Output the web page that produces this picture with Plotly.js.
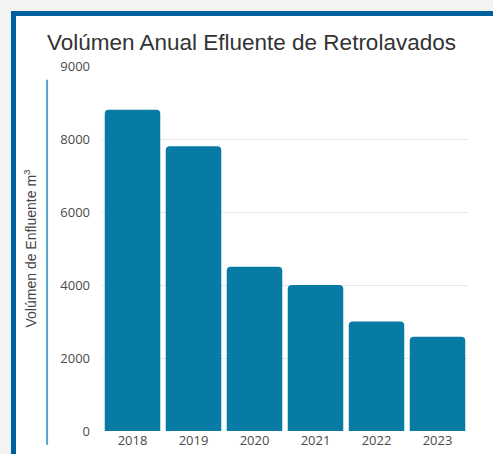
<!DOCTYPE html>
<html><head><meta charset="utf-8">
<script src="https://cdn.plot.ly/plotly-3.0.1.min.js"></script>
<style>
html,body{margin:0;padding:0;background:#f3f3f3;overflow:hidden}
#wrap{position:relative;width:493px;height:454px;background:#f3f3f3}
#frame{position:absolute;left:11px;top:11px;width:500px;height:470px;background:#fff;border-left:5px solid #00609c;border-top:5px solid #00609c}
#chart{position:absolute;left:0;top:0;width:493px;height:454px}
</style></head><body>
<div id="wrap"><div id="frame"></div><div id="chart"></div></div>
<script>
const years = ['2018','2019','2020','2021','2022','2023'];
const volumes = [8800, 7800, 4500, 4000, 3000, 2580];
const tickValues = [0, 2000, 4000, 6000, 8000, 10000];
const tickLabels = ['0', '2000', '4000', '6000', '8000', '9000'];

const data = [{
  type: 'bar', x: years, y: volumes,
  marker: {color: '#087ba4', line: {width: 0}},
  hoverinfo: 'x+y'
}];
const layout = {
  width: 493, height: 454,
  paper_bgcolor: 'rgba(0,0,0,0)', plot_bgcolor: 'rgba(0,0,0,0)',
  margin: {l: 102, r: 25, t: 66, b: 23},
  bargap: 0.09, barcornerradius: 4,
  font: {family: 'Open Sans, sans-serif', color: '#555'},
  title: {text: 'Volúmen Anual Efluente de Retrolavados', x: 0.51, xanchor: 'center', y: 0.907, yanchor: 'middle',
          font: {size: 22.5, color: '#333', family: 'Liberation Sans, Arial, sans-serif'}},
  xaxis: {type: 'category', showgrid: false, zeroline: false, showline: false,
          tickfont: {size: 13, color: '#4a4a4a'}, ticks: '', ticklen: 0},
  yaxis: {range: [0, 10000], tickvals: tickValues, ticktext: tickLabels,
          showgrid: true, gridcolor: '#e6e6e6', gridwidth: 1, zeroline: false, showline: false,
          tickfont: {size: 13, color: '#4a4a4a'}, ticks: '', ticklabelstandoff: 11,
          title: {text: 'Volúmen de Enfluente m<sup>3</sup>', standoff: 20,
                  font: {size: 14, color: '#444', family: 'Liberation Sans, Arial, sans-serif'}}},
  shapes: [{type: 'line', xref: 'paper', yref: 'paper', x0: -0.150, x1: -0.150, y0: -0.038, y1: 0.962,
            line: {color: '#4ea6cc', width: 2}}],
  showlegend: false
};
Plotly.newPlot('chart', data, layout, {displayModeBar: false, staticPlot: true});
</script></body></html>
